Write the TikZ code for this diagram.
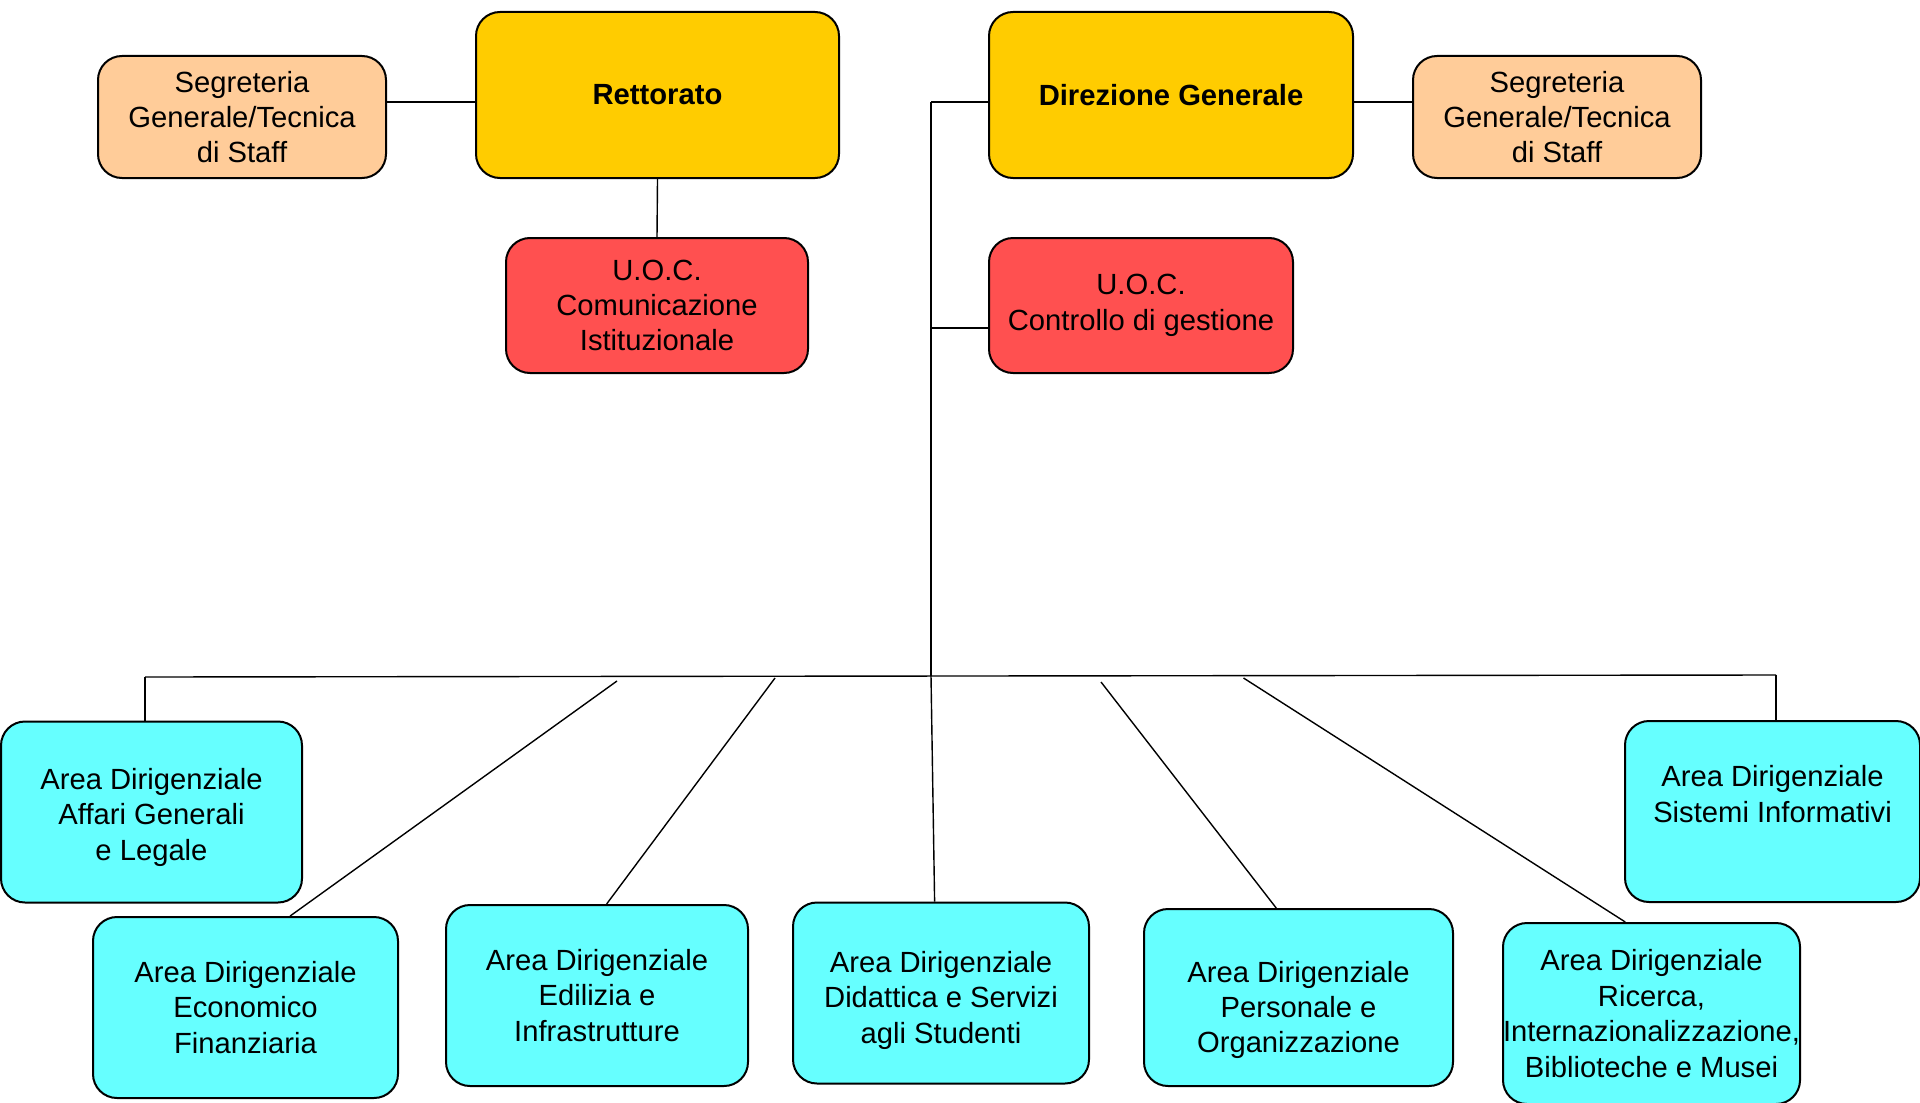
\documentclass[tikz,border=0pt]{standalone}
\usepackage{fontspec}
\setmainfont{Liberation Sans}
\usetikzlibrary{positioning}
\definecolor{rettgold}{HTML}{FFCC00}
\definecolor{segpeach}{HTML}{FFCC99}
\definecolor{uocred}{HTML}{FF5050}
\definecolor{areacyan}{HTML}{66FFFF}
\tikzset{
    box/.style={draw, fill=#1, rounded corners=12pt, line width=1pt, align=center, inner sep=0pt},
    box/.default={areacyan},
    area/.style={box, minimum width=150pt, minimum height=90.5pt},
    link/.style={line width=0.7pt}
}
\newcommand{\lowerby}[1]{\rule{0pt}{#1}}

\begin{document}
\begin{tikzpicture}[x=0.5pt, y=-0.5pt, font=\fontsize{14.6}{17.7}\selectfont]
    \useasboundingbox (0,0) rectangle (1920,1102);
    \node[box=rettgold, minimum width=181.5pt, minimum height=83pt, font=\fontsize{14.6}{17.7}\selectfont\bfseries](rett) at (657.5,95) {Rettorato};
    \node[box=rettgold, minimum width=182pt, minimum height=83pt, font=\fontsize{14.6}{17.7}\selectfont\bfseries](dg) at (1171,95) {Direzione Generale};
    \node[box=segpeach, minimum width=144pt, minimum height=61pt](segL) at (242,117) {Segreteria\\Generale/Tecnica\\di Staff};
    \node[box=segpeach, minimum width=144pt, minimum height=61pt](segR) at (1557,117) {Segreteria\\Generale/Tecnica\\di Staff};
    \node[box=uocred, minimum width=151pt, minimum height=67.5pt](uocC) at (657,305.5) {U.O.C.\\Comunicazione\\Istituzionale};
    \node[box=uocred, minimum width=152pt, minimum height=67.5pt](uocG) at (1141,305.5) {U.O.C.\\Controllo di gestione};
    \node[area, minimum width=150.5pt](affari) at (151.5,812) {\lowerby{16pt}Area Dirigenziale\\Affari Generali\\e Legale};
    \node[area, minimum width=152.5pt](econ) at (245.5,1007.5) {Area Dirigenziale\\Economico\\Finanziaria};
    \node[area, minimum width=151pt](edil) at (597,995.5) {Area Dirigenziale\\Edilizia e\\Infrastrutture};
    \node[area, minimum width=148pt](didat) at (941,993) {\lowerby{18pt}Area Dirigenziale\\Didattica e Servizi\\agli Studenti};
    \node[area, minimum width=154.5pt, minimum height=88.5pt](pers) at (1298.5,997.5) {\lowerby{23pt}Area Dirigenziale\\Personale e\\Organizzazione};
    \node[area, minimum width=147.5pt](ric) at (1651.5,1013.5) {Area Dirigenziale\\Ricerca,\\Internazionalizzazione,\\Biblioteche e Musei};
    \node[area, minimum width=147.5pt](sist) at (1772.5,811.5) {Area Dirigenziale\\Sistemi Informativi\\~};
    \coordinate (trunk) at (931,102);
    \coordinate (hub) at (931,676);
    \coordinate (busL) at (145,677);
    \coordinate (busR) at (1776,675);
    \coordinate (b2) at (617,681);
    \coordinate (b3) at (775,678);
    \coordinate (b5) at (1101,682);
    \coordinate (b6) at (1243.5,678);
    \draw[link]([yshift=-3.5pt]rett.west) -- ([yshift=-3.5pt]rett.west -| segL.east);
    \draw[link](rett.south) -- (uocC.north);
    \draw[link]([yshift=-3.5pt]dg.east) -- ([yshift=-3.5pt]dg.east -| segR.west);
    \draw[link](trunk) -- ([yshift=-3.5pt]dg.west);
    \draw[link](trunk) -- (hub);
    \draw[link](trunk |- uocG.west) ++(0,22.5) -- ([yshift=-11.25pt]uocG.west);
    \draw[link](busL) -- (busR);
    \draw[link](busL) -- (affari.north -| busL);
    \draw[link](b2) -- (econ.64);
    \draw[link](b3) -- (edil.84);
    \draw[link](hub) -- (didat.94);
    \draw[link](b5) -- (pers.104);
    \draw[link](b6) -- (ric.106);
    \draw[link](busR) -- (sist.north -| busR);
\end{tikzpicture}
\end{document}
